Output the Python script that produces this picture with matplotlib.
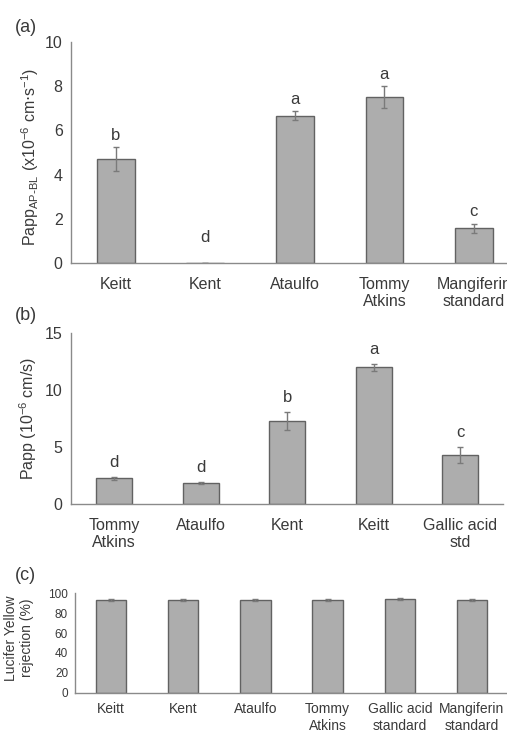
import matplotlib.pyplot as plt

plt.rcParams["font.family"] = ["Liberation Sans", "DejaVu Sans"]

# (a) Papp AP-BL
a_labels = ["Keitt", "Kent", "Ataulfo", "Tommy\nAtkins", "Mangiferin\nstandard"]
a_values = [4.7, 0.02, 6.67, 7.5, 1.58]
a_errors = [0.55, 0.0, 0.2, 0.5, 0.2]
a_letters = ["b", "d", "a", "a", "c"]

# (b) Papp
b_labels = ["Tommy\nAtkins", "Ataulfo", "Kent", "Keitt", "Gallic acid\nstd"]
b_values = [2.25, 1.87, 7.3, 12.0, 4.27]
b_errors = [0.15, 0.1, 0.8, 0.3, 0.7]
b_letters = ["d", "d", "b", "a", "c"]

# (c) Lucifer Yellow rejection
c_labels = ["Keitt", "Kent", "Ataulfo", "Tommy\nAtkins", "Gallic acid\nstandard", "Mangiferin\nstandard"]
c_values = [92.8, 93.2, 93.5, 92.8, 93.8, 93.5]
c_errors = [1.0, 1.0, 1.0, 1.0, 1.0, 1.0]

BAR = "#adadad"
EDGE = "#626262"
AXIS = "#8a8a8a"
TEXT = "#3a3a3a"

W, H = 507, 732
fig = plt.figure(figsize=(W / 100, H / 100), dpi=100)


def panel(rect, labels, values, errors, ymax, step, xsize, ysize, xpad, ypad,
          letters=None, offset=0.0):
    ax = fig.add_axes(rect)
    x = range(len(values))
    ax.bar(x, values, width=0.42, color=BAR, edgecolor=EDGE, linewidth=1.0,
           yerr=errors, error_kw=dict(ecolor="#7a7a7a", elinewidth=1.0, capsize=2))
    ax.set_xlim(-0.5, len(values) - 0.5)
    ax.set_xticks(list(x))
    ax.set_xticklabels(labels)
    ax.set_ylim(0, ymax)
    ax.set_yticks(range(0, ymax + 1, step))
    for s in ("top", "right"):
        ax.spines[s].set_visible(False)
    for s in ("left", "bottom"):
        ax.spines[s].set_color(AXIS)
        ax.spines[s].set_linewidth(1.0)
    ax.tick_params(length=0, colors=TEXT)
    ax.tick_params(axis="x", labelsize=xsize, pad=xpad)
    ax.tick_params(axis="y", labelsize=ysize, pad=ypad)
    if letters:
        for i, (v, e, l) in enumerate(zip(values, errors, letters)):
            y = max(v + e, 0.06 * ymax) + offset * ymax
            ax.text(i, y, l, ha="center", va="bottom", fontsize=12, color=TEXT)
    return ax


panel([0.140, 0.6407, 0.883, 0.302], a_labels, a_values, a_errors, 10, 2,
      11.5, 11.5, 10, 6, a_letters, 0.02)
panel([0.140, 0.3115, 0.853, 0.2336], b_labels, b_values, b_errors, 15, 5,
      11.5, 11.5, 10, 6, b_letters, 0.04)
panel([0.148, 0.0537, 0.854, 0.1358], c_labels, c_values, c_errors, 100, 20,
      10, 8.5, 7, 5)

fig.text(30 / W, 1 - 157 / H,
         r"Papp$_{\mathregular{AP\text{-}BL}}$ (x10$^{\mathregular{-6}}$ cm$\cdot$s$^{\mathregular{-1}}$)",
         rotation=90, ha="center", va="center", fontsize=11.5, color=TEXT)
fig.text(28 / W, 1 - 419 / H, r"Papp (10$^{\mathregular{-6}}$ cm/s)",
         rotation=90, ha="center", va="center", fontsize=11.5, color=TEXT)
fig.text(19 / W, 1 - 638 / H, "Lucifer Yellow\nrejection (%)", rotation=90,
         ha="center", va="center", fontsize=10, color=TEXT, linespacing=1.1)

fig.text(15 / W, 1 - 28 / H, "(a)", fontsize=13, color=TEXT, va="center")
fig.text(15 / W, 1 - 315 / H, "(b)", fontsize=13, color=TEXT, va="center")
fig.text(15 / W, 1 - 575 / H, "(c)", fontsize=13, color=TEXT, va="center")

fig.savefig("out.png", dpi=100)
